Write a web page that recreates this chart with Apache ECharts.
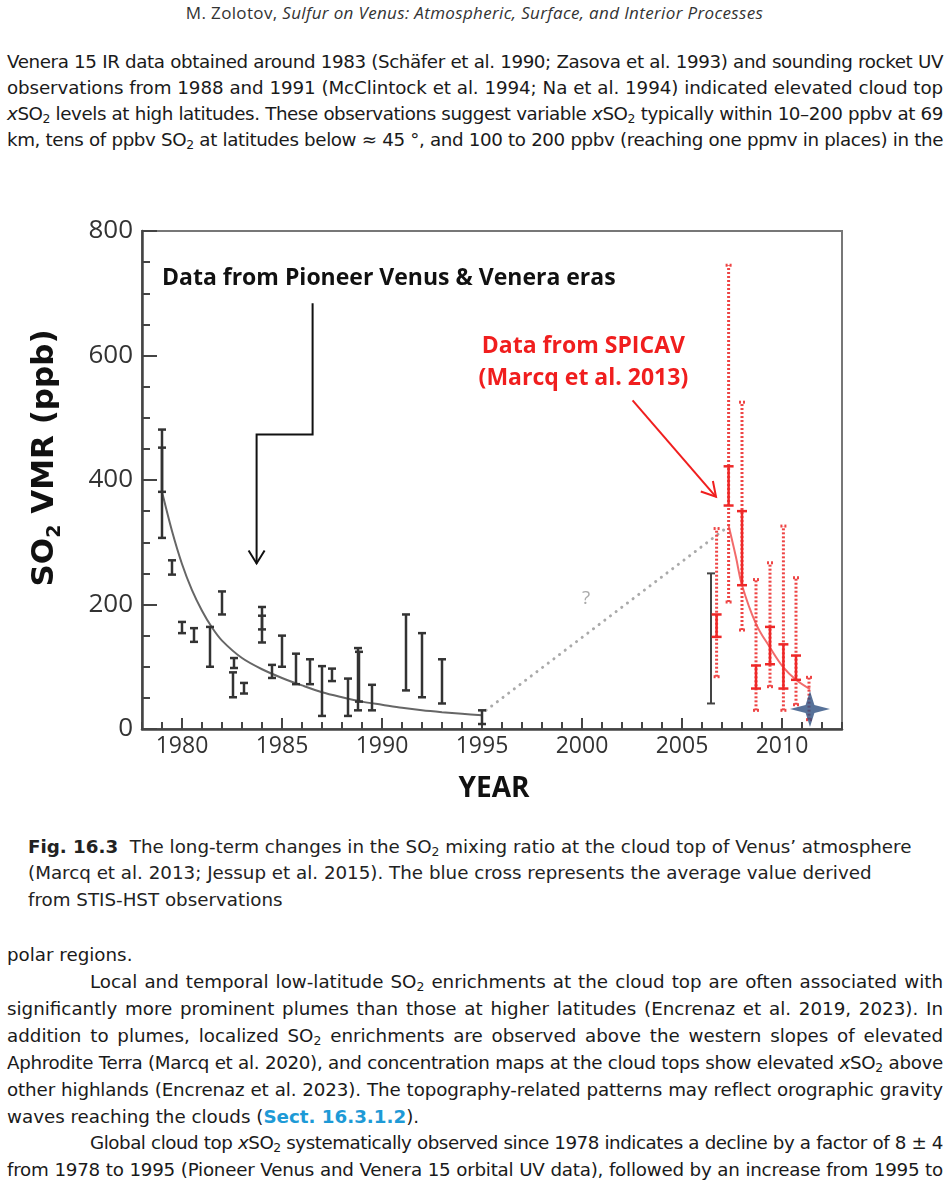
<!DOCTYPE html>
<html>
<head>
<meta charset="utf-8">
<script src="https://cdn.jsdelivr.net/npm/echarts@6/dist/echarts.min.js"></script>
<style>
  html, body { margin:0; padding:0; background:#fff; }
  #page { position:relative; width:949px; height:1189px; overflow:hidden; background:#fff; }
  .ln { position:absolute; height:26px; line-height:26px; font-family:"DejaVu Sans", sans-serif; font-size:16px; color:#1a1a1a; white-space:nowrap; }
  .j { text-align:justify; text-align-last:justify; }
  sub { font-size:0.68em; vertical-align:-0.22em; line-height:0; }
  .cap { color:#222; }
  .hdr { font-family:"Open Sans", sans-serif; font-size:17px; letter-spacing:0.35px; color:#333; text-align:center; }
  .link { color:#1e9ad6; font-weight:bold; }
  #chart { position:absolute; left:0; top:190px; width:949px; height:630px; }
</style>
</head>
<body>
<div id="page">
  <div class="ln hdr" style="left:0;width:949px;top:0px;">M. Zolotov, <i>Sulfur on Venus: Atmospheric, Surface, and Interior Processes</i></div>

  <div class="ln body jx" style="left:7px;width:936px;top:49px;"><span>Venera 15 IR data obtained around 1983 (Schäfer et al. 1990; Zasova et al. 1993) and sounding rocket UV</span></div>
  <div class="ln body jx" style="left:7px;width:936px;top:75px;"><span>observations from 1988 and 1991 (McClintock et al. 1994; Na et al. 1994) indicated elevated cloud top</span></div>
  <div class="ln body jx" style="left:7px;width:936px;top:101px;"><span><i>x</i>SO<sub>2</sub> levels at high latitudes. These observations suggest variable <i>x</i>SO<sub>2</sub> typically within 10–200 ppbv at 69</span></div>
  <div class="ln body jx" style="left:7px;width:936px;top:127px;"><span>km, tens of ppbv SO<sub>2</sub> at latitudes below ≈ 45 °, and 100 to 200 ppbv (reaching one ppmv in places) in the</span></div>

  <div id="chart"></div>

  <div id="cap1" class="ln cap" style="left:28px;top:834px;"><span><b>Fig. 16.3</b>&nbsp; The long-term changes in the SO<sub>2</sub> mixing ratio at the cloud top of Venus’ atmosphere</span></div>
  <div class="ln cap" style="left:28px;top:860px;"><span>(Marcq et al. 2013; Jessup et al. 2015). The blue cross represents the average value derived</span></div>
  <div class="ln cap" style="left:28px;top:887px;"><span>from STIS-HST observations</span></div>

  <div class="ln body" style="left:7px;top:942px;"><span>polar regions.</span></div>
  <div class="ln body jx" style="left:90px;width:853px;top:969px;"><span>Local and temporal low-latitude SO<sub>2</sub> enrichments at the cloud top are often associated with</span></div>
  <div class="ln body jx" style="left:7px;width:936px;top:996px;"><span>significantly more prominent plumes than those at higher latitudes (Encrenaz et al. 2019, 2023). In</span></div>
  <div class="ln body jx" style="left:7px;width:936px;top:1023px;"><span>addition to plumes, localized SO<sub>2</sub> enrichments are observed above the western slopes of elevated</span></div>
  <div class="ln body jx" style="left:7px;width:936px;top:1050px;"><span>Aphrodite Terra (Marcq et al. 2020), and concentration maps at the cloud tops show elevated <i>x</i>SO<sub>2</sub> above</span></div>
  <div class="ln body jx" style="left:7px;width:936px;top:1077px;"><span>other highlands (Encrenaz et al. 2023). The topography-related patterns may reflect orographic gravity</span></div>
  <div class="ln body" style="left:7px;top:1104px;"><span>waves reaching the clouds (<span class="link">Sect. 16.3.1.2</span>).</span></div>
  <div class="ln body jx" style="left:90px;width:853px;top:1130px;"><span>Global cloud top <i>x</i>SO<sub>2</sub> systematically observed since 1978 indicates a decline by a factor of 8 ± 4</span></div>
  <div class="ln body jx" style="left:7px;width:936px;top:1157px;"><span>from 1978 to 1995 (Pioneer Venus and Venera 15 orbital UV data), followed by an increase from 1995 to</span></div>
</div>

<script>
// ---------- page text fitting (typography only) ----------
(function fitText() {
  const cap1 = document.getElementById('cap1');
  const w = cap1.firstElementChild.getBoundingClientRect().width;
  const fs = 16 * 884 / w;
  document.querySelectorAll('.body,.cap').forEach(el => { el.style.fontSize = fs + 'px'; });
  document.querySelectorAll('.jx').forEach(el => {
    const span = el.firstElementChild;
    const tw = el.clientWidth;
    const nw = span.getBoundingClientRect().width;
    if (nw > tw - 4) {
      const n = span.textContent.length;
      el.style.letterSpacing = ((tw - 4 - nw) / n) + 'px';
    }
    el.classList.add('j');
  });
})();

// ---------- axis ----------
const xMin = 1978, xMax = 2013;
const xLabelYears = [1980, 1985, 1990, 1995, 2000, 2005, 2010];
const yMin = 0, yMax = 800, yStep = 200;

// ---------- Pioneer Venus / Venera era error bars (ppb) ----------
const pvYear = [1979.0, 1979.0, 1979.5, 1980.0, 1980.6, 1981.4, 1982.0, 1982.6, 1982.55, 1983.1, 1984.0, 1984.0, 1984.5, 1985.0, 1985.7, 1986.4, 1987.0, 1987.5, 1988.3, 1988.8, 1988.85, 1989.5, 1991.2, 1992.0, 1993.0, 1995.0];
const pvLow  = [307, 381, 248, 154, 140, 100, 184, 98, 51, 57, 160, 139, 82, 100, 72, 72, 21, 77, 21, 30, 44, 30, 62, 51, 41, 8];
const pvHigh = [452, 481, 271, 172, 162, 164, 221, 114, 91, 74, 196, 182, 103, 150, 121, 112, 101, 97, 81, 130, 124, 71, 184, 154, 112, 30];

// fitted decline curve 1979-1995
const fitYear = [1979.0, 1979.5, 1980.0, 1980.5, 1981.0, 1981.5, 1982, 1983, 1984, 1985, 1986, 1987, 1988, 1989, 1990, 1991, 1992, 1993, 1994, 1995];
const fitVal  = [381, 318, 265, 223, 190, 163, 142, 114, 96, 82, 70, 59, 51, 44, 39, 34, 30, 27, 24.5, 22];

// unknown period (dotted gray)
const gapYear = [1995.2, 2007.3];
const gapVal  = [30, 325];

// other black bar in SPICAV era
const otherYear = [2006.45];
const otherLow  = [41];
const otherHigh = [250];

// ---------- SPICAV (Marcq et al. 2013) ----------
const spYear     = [2006.73, 2007.33, 2008.0, 2008.7, 2009.4, 2010.07, 2010.7, 2011.35];
const spDotLow   = [84, 204, 159, 30, 68, 30, 39, 15];
const spDotHigh  = [322, 745, 525, 240, 267, 326, 243, 83];
const spBarYear  = [2006.73, 2007.33, 2008.0, 2008.7, 2009.4, 2010.07, 2010.7];
const spBarLow   = [148, 359, 231, 65, 104, 65, 79];
const spBarHigh  = [184, 422, 350, 102, 164, 136, 118];
const spFitYear  = [2007.33, 2007.7, 2008.0, 2008.7, 2009.4, 2010.07, 2010.7, 2011.4];
const spFitVal   = [327, 276, 231, 169, 131, 99, 79, 64];

// STIS-HST average
const hstYear = [2011.4];
const hstVal  = [32];

// ---------- annotations (data coordinates) ----------
const arrowPioneer = [[1986.53, 684], [1986.53, 473], [1983.73, 473], [1983.73, 266]];
const arrowSpicav  = [[2002.53, 528], [2006.7, 373]];
const notePioneer  = [1979.0, 724, 'Data from Pioneer Venus & Venera eras'];
const noteSpicav1  = [2000.07, 614, 'Data from SPICAV'];
const noteSpicav2  = [2000.07, 563, '(Marcq et al. 2013)'];
const noteGap      = [2000.2, 209, '?'];

const zip3 = (a, b, c) => a.map((v, i) => [v, b[i], c[i]]);
const zip2 = (a, b) => a.map((v, i) => [v, b[i]]);

function barRenderer(color, width, capHalf, dash) {
  return function (params, api) {
    const x = api.value(0), lo = api.value(1), hi = api.value(2);
    const p1 = api.coord([x, lo]), p2 = api.coord([x, hi]);
    const style = { stroke: color, lineWidth: width, lineDash: dash || null, fill: null };
    return {
      type: 'group',
      children: [
        { type: 'line', shape: { x1: p1[0], y1: p1[1], x2: p2[0], y2: p2[1] }, style: style },
        { type: 'line', shape: { x1: p1[0] - capHalf, y1: p1[1], x2: p1[0] + capHalf, y2: p1[1] }, style: style },
        { type: 'line', shape: { x1: p2[0] - capHalf, y1: p2[1], x2: p2[0] + capHalf, y2: p2[1] }, style: style }
      ]
    };
  };
}

function arrowHead(from, to, len, half, color, width) {
  const dx = to[0] - from[0], dy = to[1] - from[1];
  const L = Math.sqrt(dx * dx + dy * dy);
  const ux = dx / L, uy = dy / L;
  const bx = to[0] - ux * len, by = to[1] - uy * len;
  return { type: 'polyline', shape: { points: [[bx - uy * half, by + ux * half], to, [bx + uy * half, by - ux * half]] },
           style: { stroke: color, lineWidth: width, fill: null } };
}

function annotRender(params, api) {
  const pb = arrowPioneer.map(p => api.coord(p));
  const ps = arrowSpicav.map(p => api.coord(p));
  const t1 = api.coord([notePioneer[0], notePioneer[1]]);
  const t2 = api.coord([noteSpicav1[0], noteSpicav1[1]]);
  const t3 = api.coord([noteSpicav2[0], noteSpicav2[1]]);
  const t4 = api.coord([noteGap[0], noteGap[1]]);
  const font = '"Open Sans", sans-serif';
  return {
    type: 'group',
    children: [
      { type: 'polyline', shape: { points: pb }, style: { stroke: '#111', lineWidth: 2, fill: null } },
      arrowHead(pb[pb.length - 2], pb[pb.length - 1], 13, 8, '#111', 2),
      { type: 'line', shape: { x1: ps[0][0], y1: ps[0][1], x2: ps[1][0], y2: ps[1][1] }, style: { stroke: '#f01e1e', lineWidth: 2 } },
      arrowHead(ps[0], ps[1], 14, 8, '#f01e1e', 2),
      { type: 'text', style: { text: notePioneer[2], x: t1[0], y: t1[1], fill: '#111', fontSize: 23, fontWeight: 'bold', fontFamily: font, align: 'left', verticalAlign: 'middle' } },
      { type: 'text', style: { text: noteSpicav1[2], x: t2[0], y: t2[1], fill: '#f01e1e', fontSize: 23, fontWeight: 'bold', fontFamily: font, align: 'center', verticalAlign: 'middle' } },
      { type: 'text', style: { text: noteSpicav2[2], x: t3[0], y: t3[1], fill: '#f01e1e', fontSize: 23, fontWeight: 'bold', fontFamily: font, align: 'center', verticalAlign: 'middle' } },
      { type: 'text', style: { text: noteGap[2], x: t4[0], y: t4[1], fill: '#aaaaaa', fontSize: 19, fontFamily: font, align: 'center', verticalAlign: 'middle' } }
    ]
  };
}

const chart = echarts.init(document.getElementById('chart'), null, { renderer: 'canvas' });
const labelFont = '"Open Sans", sans-serif';
const titleFont = '"DejaVu Sans", sans-serif';

chart.setOption({
  animation: false,
  backgroundColor: '#fff',
  grid: { left: 142, right: 107, top: 41, bottom: 91, show: true, borderColor: '#777', borderWidth: 2, containLabel: false, outerBoundsMode: 'none' },
  xAxis: [{
    type: 'value', min: xMin, max: xMax, interval: 1,
    axisLine: { show: true, onZero: false, lineStyle: { color: '#444', width: 2.5 } },
    axisTick: { show: true, inside: true, length: 7, lineStyle: { color: '#444', width: 2 } },
    axisLabel: { show: true, customValues: xLabelYears, formatter: v => (v % 5 === 0 ? String(v) : ''), fontSize: 23, color: '#333', margin: 6, fontFamily: labelFont },
    splitLine: { show: false }
  }, {
    type: 'value', min: xMin, max: xMax, position: 'bottom', gridIndex: 0,
    axisLine: { show: false, onZero: false },
    axisTick: { show: true, inside: true, length: 11, customValues: xLabelYears, lineStyle: { color: '#444', width: 2 } },
    axisLabel: { show: false },
    splitLine: { show: false }
  }],
  yAxis: [{
    type: 'value', min: yMin, max: yMax, interval: yStep,
    axisLine: { show: true, onZero: false, lineStyle: { color: '#444', width: 2.5 } },
    axisTick: { show: true, inside: true, length: 15, lineStyle: { color: '#444', width: 2 } },
    minorTick: { show: true, splitNumber: 4, length: 8, lineStyle: { color: '#444', width: 2 } },
    axisLabel: { fontSize: 26, color: '#333', margin: 9, fontFamily: labelFont },
    splitLine: { show: false },
    minorSplitLine: { show: false }
  }],
  graphic: [
    { type: 'text', x: 45, y: 268, rotation: Math.PI / 2, z: 100,
      style: { text: '{a|SO}{b|2}{a| VMR (ppb)}', align: 'center', verticalAlign: 'middle',
        rich: {
          a: { fontSize: 31, fontWeight: 'bold', fontFamily: titleFont, fill: '#111', color: '#111', lineHeight: 40, verticalAlign: 'middle' },
          b: { fontSize: 19, fontWeight: 'bold', fontFamily: titleFont, fill: '#111', color: '#111', lineHeight: 40, verticalAlign: 'bottom' }
        } } },
    { type: 'text', x: 494, y: 599, z: 100,
      style: { text: 'YEAR', fontSize: 28, fontWeight: 'bold', fontFamily: labelFont, fill: '#111', align: 'center', verticalAlign: 'middle' } }
  ],
  series: [
    { name: 'fit', type: 'line', data: zip2(fitYear, fitVal), smooth: 0.3, showSymbol: false, symbol: 'none',
      lineStyle: { color: '#666', width: 2 }, z: 2 },
    { name: 'gap', type: 'line', data: zip2(gapYear, gapVal), showSymbol: false, symbol: 'none',
      lineStyle: { color: '#aaa', width: 3, type: [0.1, 7], cap: 'round' }, z: 2 },
    { name: 'spicavFit', type: 'line', data: zip2(spFitYear, spFitVal), smooth: 0.4, showSymbol: false, symbol: 'none',
      lineStyle: { color: '#f26b6b', width: 2 }, z: 3 },
    { name: 'pvBars', type: 'custom', renderItem: barRenderer('#333', 2.5, 4, null), data: zip3(pvYear, pvLow, pvHigh), z: 4 },
    { name: 'otherBars', type: 'custom', renderItem: barRenderer('#444', 2, 4, null), data: zip3(otherYear, otherLow, otherHigh), z: 4 },
    { name: 'spDots', type: 'custom', renderItem: barRenderer('#ee4444', 3, 3, [2, 2]), data: zip3(spYear, spDotLow, spDotHigh), z: 5 },
    { name: 'spBars', type: 'custom', renderItem: barRenderer('#ee2828', 2.5, 5, null), data: zip3(spBarYear, spBarLow, spBarHigh), z: 6 },
    { name: 'hst', type: 'scatter', data: zip2(hstYear, hstVal),
      symbol: 'path://M0,-50 L11,-11 L50,0 L11,11 L0,50 L-11,11 L-50,0 L-11,-11 Z', symbolSize: [40, 36],
      itemStyle: { color: '#2d4f80' }, z: 8 },
    { name: 'annot', type: 'custom', renderItem: annotRender, data: [[xMin, yMin]], z: 9, silent: true }
  ]
});
</script>
</body>
</html>
